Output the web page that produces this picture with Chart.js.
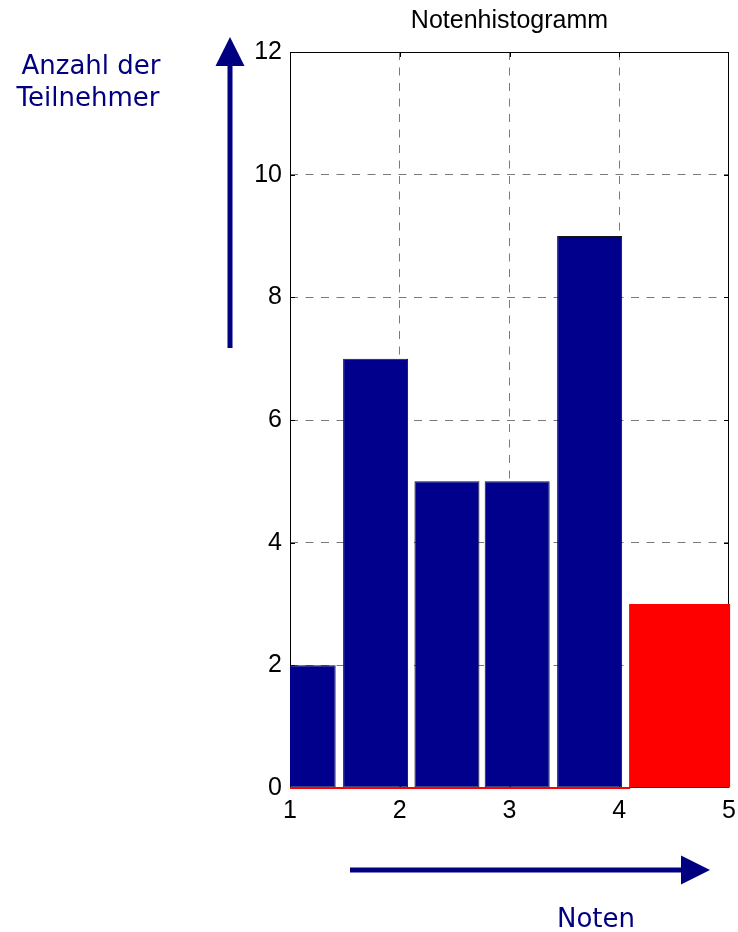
<!DOCTYPE html>
<html>
<head>
<meta charset="utf-8">
<script src="https://cdn.jsdelivr.net/npm/chart.js@4.4.1/dist/chart.umd.min.js"></script>
<style>
html, body { margin: 0; padding: 0; background: #fff; }
#wrap { width: 738px; height: 932px; }
</style>
</head>
<body>
<div id="wrap"><canvas id="notenChart" width="738" height="932"></canvas></div>
<script>
// Notenverteilung: blaue Balken = bestanden, roter Balken = nicht bestanden
const binCenters = [1.12, 1.78, 2.43, 3.07, 3.73];
const counts = [2, 7, 5, 5, 9];
const failCenters = [4.55];
const failCounts = [3];
const baselineX = [1, 4.1];
const xTicks = [1, 2, 3, 4, 5];
const yTicks = [0, 2, 4, 6, 8, 10, 12];

const navy = '#000080';
const barBlue = '#00008C';
const gridGrey = '#7a7a7a';

const toPoints = (xs, ys) => xs.map((x, i) => ({ x: x, y: ys[i] }));

// Rahmen, Ticks nach innen, Pfeile und Achsenbeschriftungen
const decorPlugin = {
    id: 'decor',
    beforeDatasetsDraw(chart) {
        const { ctx, chartArea: a, scales } = chart;
        ctx.save();
        ctx.strokeStyle = '#000';
        ctx.lineWidth = 1;
        ctx.strokeRect(a.left + 0.5, a.top + 0.5, a.right - a.left - 1, a.bottom - a.top - 1);
        ctx.beginPath();
        xTicks.slice(1, -1).forEach(v => {
            const px = Math.round(scales.x.getPixelForValue(v)) + 0.5;
            ctx.moveTo(px, a.top); ctx.lineTo(px, a.top + 5);
            ctx.moveTo(px, a.bottom); ctx.lineTo(px, a.bottom - 5);
        });
        yTicks.slice(1, -1).forEach(v => {
            const py = Math.round(scales.y.getPixelForValue(v)) + 0.5;
            ctx.moveTo(a.left, py); ctx.lineTo(a.left + 5, py);
            ctx.moveTo(a.right, py); ctx.lineTo(a.right - 5, py);
        });
        ctx.stroke();
        ctx.restore();
    },
    afterDraw(chart) {
        const ctx = chart.ctx;
        ctx.save();
        ctx.fillStyle = navy;
        // senkrechter Pfeil
        ctx.fillRect(227.5, 62, 5, 286);
        ctx.beginPath();
        ctx.moveTo(215.5, 66); ctx.lineTo(244.5, 66); ctx.lineTo(230, 37);
        ctx.closePath(); ctx.fill();
        // waagerechter Pfeil
        ctx.fillRect(350, 867.5, 334, 5);
        ctx.beginPath();
        ctx.moveTo(681, 855.5); ctx.lineTo(681, 884.5); ctx.lineTo(710, 870);
        ctx.closePath(); ctx.fill();
        ctx.font = '26px "DejaVu Sans"';
        ctx.textAlign = 'center';
        ctx.textBaseline = 'alphabetic';
        ctx.fillText('Anzahl der', 91, 74);
        ctx.fillText('Teilnehmer', 88, 106);
        ctx.fillText('Noten', 596, 927);
        ctx.restore();
    }
};

const innerGrid = (lo, hi) => c => (c.tick && c.tick.value > lo && c.tick.value < hi) ? gridGrey : 'rgba(0,0,0,0)';

new Chart(document.getElementById('notenChart').getContext('2d'), {
    type: 'bar',
    data: {
        datasets: [{
            type: 'line',
            data: toPoints(baselineX, [0, 0]),
            borderColor: '#ff0000',
            borderWidth: 2,
            pointRadius: 0,
            order: 0,
            clip: 3
        }, {
            label: 'bestanden',
            data: toPoints(binCenters, counts),
            grouped: false,
            backgroundColor: barBlue,
            borderColor: '#141414',
            borderWidth: 1,
            borderSkipped: false,
            categoryPercentage: 1,
            barPercentage: 3,
            maxBarThickness: 65,
            order: 1,
            clip: { left: 0, top: 0, right: 0, bottom: 0 }
        }, {
            label: 'nicht bestanden',
            data: toPoints(failCenters, failCounts),
            grouped: false,
            backgroundColor: '#ff0000',
            borderWidth: 0,
            categoryPercentage: 1,
            barPercentage: 3,
            maxBarThickness: 101,
            order: 2,
            clip: { left: 0, top: 0, right: 2, bottom: 0 }
        }]
    },
    options: {
        responsive: false,
        animation: false,
        layout: { padding: { left: 230, right: 9, top: 0, bottom: 100 } },
        plugins: {
            legend: { display: false },
            tooltip: { enabled: false },
            title: {
                display: true,
                fullSize: false,
                text: 'Notenhistogramm',
                color: '#000',
                font: { family: '"Liberation Sans", Arial, sans-serif', size: 25, weight: 'normal', lineHeight: 1.2 },
                padding: { top: 6, bottom: 16 }
            }
        },
        scales: {
            x: {
                type: 'linear',
                min: 1,
                max: 5,
                offset: false,
                afterBuildTicks: s => { s.ticks = xTicks.map(v => ({ value: v })); },
                afterFit: s => { s.height = 44; s.paddingLeft = 0; s.paddingRight = 0; },
                ticks: {
                    color: '#000',
                    padding: 8,
                    font: { family: '"Liberation Sans", Arial, sans-serif', size: 25 }
                },
                grid: { color: innerGrid(1, 5), lineWidth: 1, drawTicks: false, offset: false },
                border: { display: false, dash: [8, 7.5] }
            },
            y: {
                min: 0,
                max: 12,
                afterBuildTicks: s => { s.ticks = yTicks.map(v => ({ value: v })); },
                afterFit: s => { s.width = 60; },
                ticks: {
                    color: '#000',
                    padding: 8,
                    font: { family: '"Liberation Sans", Arial, sans-serif', size: 25 }
                },
                grid: { color: innerGrid(0, 12), lineWidth: 1, drawTicks: false },
                border: { display: false, dash: [8, 7.5] }
            }
        }
    },
    plugins: [decorPlugin]
});
</script>
</body>
</html>
